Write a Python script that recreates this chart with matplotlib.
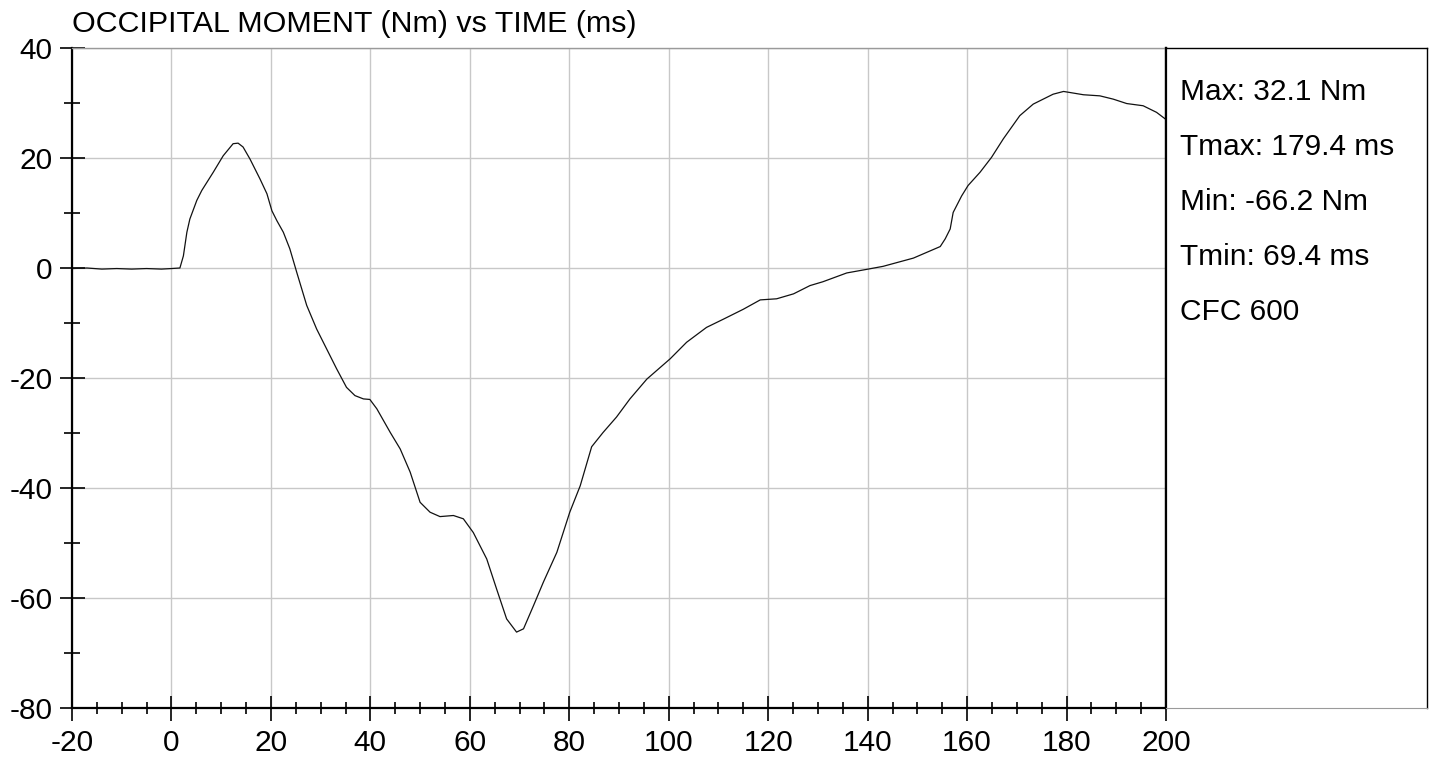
import numpy as np
import matplotlib.pyplot as plt
from matplotlib.ticker import MultipleLocator

plt.rcParams['font.family'] = ['Liberation Sans', 'DejaVu Sans']
plt.rcParams['axes.unicode_minus'] = False

# Dados da curva (ms, Nm)
time_ms = [-20, -17, -14, -11, -8, -5, -2, 0, 1.7, 2.4, 3.1, 3.7, 5.1, 6.1,
           8.4, 10.4, 12.4, 13.4, 14.4, 15.8, 17.8, 19.2, 20.2, 21.2, 22.5,
           23.8, 25.2, 27.2, 29.2, 31.2, 33.2, 35.2, 36.9, 38.6, 39.9, 41.3,
           44, 46, 48, 50, 52, 54, 56.7, 58.7, 60.7, 63.4, 65.4, 67.4, 69.4,
           70.8, 72.8, 74.8, 77.5, 80.1, 82.2, 84.5, 86.8, 89.5, 92.2, 95.6,
           100.3, 103.6, 107.6, 111, 115, 118.4, 121.7, 125.1, 128.4, 131,
           135.8, 140.1, 143.1, 149.2, 154.6, 155.6, 156.6, 157.2, 158.9,
           160.2, 162.6, 164.9, 167.3, 170.6, 173.3, 177.3, 179.4, 181.4,
           183.4, 186.7, 189.4, 192.1, 195.4, 198.1, 200]
moment_nm = [-0.1, 0.0, -0.2, -0.1, -0.2, -0.1, -0.2, -0.1, 0.0, 2.2, 6.5,
             8.9, 12.3, 14.1, 17.4, 20.4, 22.6, 22.7, 22.0, 19.8, 16.2, 13.5,
             10.4, 8.6, 6.5, 3.5, -0.8, -6.8, -11.1, -14.7, -18.3, -21.7,
             -23.2, -23.8, -23.9, -25.6, -29.9, -32.9, -37.1, -42.6, -44.4,
             -45.2, -45.0, -45.6, -48.1, -52.9, -58.4, -63.8, -66.2, -65.6,
             -61.4, -57.1, -51.7, -44.4, -39.6, -32.5, -29.9, -27.1, -23.8,
             -20.2, -16.5, -13.5, -10.8, -9.3, -7.5, -5.8, -5.6, -4.7, -3.2,
             -2.5, -0.9, -0.2, 0.3, 1.8, 3.9, 5.3, 7.1, 10.1, 13.1, 15.0,
             17.4, 20.1, 23.5, 27.7, 29.8, 31.6, 32.1, 31.8, 31.5, 31.3, 30.7,
             29.9, 29.5, 28.3, 27.0]

info_lines = ["Max: 32.1 Nm", "Tmax: 179.4 ms", "Min: -66.2 Nm",
              "Tmin: 69.4 ms", "CFC 600"]
title = "OCCIPITAL MOMENT (Nm) vs TIME (ms)"

W, H = 1433, 761
fig = plt.figure(figsize=(W / 100, H / 100), dpi=100)
fs = 21.5

# Eixo principal
ax = fig.add_axes([72 / W, 1 - 708 / H, (1166 - 72) / W, (708 - 48) / H])
ax.plot(time_ms, moment_nm, color='#111111', lw=0.9)
ax.set_xlim(-20, 200)
ax.set_ylim(-80, 40)
ax.xaxis.set_major_locator(MultipleLocator(20))
ax.xaxis.set_minor_locator(MultipleLocator(5))
ax.yaxis.set_major_locator(MultipleLocator(20))
ax.yaxis.set_minor_locator(MultipleLocator(10))
ax.grid(True, which='major', color='#c8c8c8', lw=1.0)
ax.set_axisbelow(True)
ax.tick_params(which='major', direction='inout', length=18, width=1.2,
               labelsize=fs)
ax.tick_params(axis='x', which='major', pad=6)
ax.tick_params(axis='y', which='major', pad=5)
ax.tick_params(axis='x', which='minor', direction='inout', length=9, width=1.2)
ax.tick_params(axis='y', which='minor', direction='inout', length=11, width=1.2)
for s in ['left', 'bottom', 'right']:
    ax.spines[s].set_linewidth(1.6)
    ax.spines[s].set_color('black')
ax.spines['top'].set_color('#9a9a9a')
ax.spines['top'].set_linewidth(1.0)

# Painel de informações
info = fig.add_axes([1166 / W, 1 - 708 / H, (1427 - 1166) / W, (708 - 48) / H])
info.set_xticks([])
info.set_yticks([])
info.spines['left'].set_linewidth(1.6)
info.spines['top'].set_linewidth(1.0)
info.spines['right'].set_linewidth(1.0)
info.spines['bottom'].set_color('#9a9a9a')
for i, line in enumerate(info_lines):
    fig.text(1180 / W, 1 - (100 + 55 * i) / H, line, fontsize=fs,
             va='baseline', ha='left')

fig.text(72 / W, 1 - 32 / H, title, fontsize=21.9, va='baseline', ha='left')

fig.savefig('out.png', dpi=100)
